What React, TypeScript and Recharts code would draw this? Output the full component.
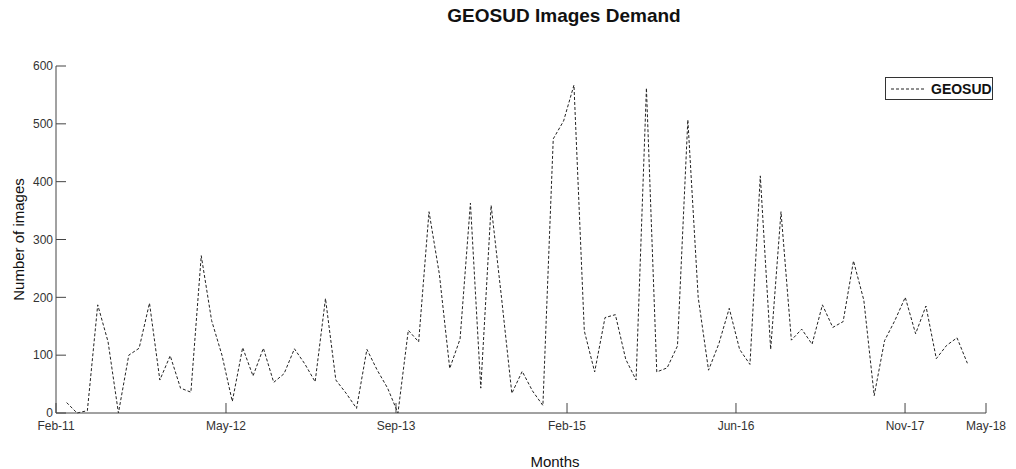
import React from "react";
import { LineChart, Line, XAxis, YAxis, Legend } from "recharts";

// monthly image demand, one value per month starting Mar-11
const demand = [
  18, 0, 4, 187, 123, 0, 100, 112, 190, 57, 99, 43, 36, 272, 160, 100, 20, 113,
  64, 112, 53, 68, 111, 85, 54, 198, 57, 34, 8, 110, 74, 43, 0, 143, 123, 348,
  240, 77, 128, 363, 43, 359, 200, 34, 72, 38, 13, 474, 505, 567, 142, 71, 165,
  170, 93, 57, 562, 71, 78, 116, 507, 200, 74, 120, 181, 110, 84, 410, 110, 348,
  126, 145, 119, 187, 148, 158, 263, 195, 30, 125, 160, 200, 137, 185, 94, 117,
  130, 86,
];

// date ticks (in month-index units, axis runs from xMin to xMax)
const xMin = -1.03;
const xMax = 88.8;
const xTickPos = [-1.03, 15.39, 31.81, 48.33, 64.65, 80.98, 88.8];
const xTickLabels = ["Feb-11", "May-12", "Sep-13", "Feb-15", "Jun-16", "Nov-17", "May-18"];
const yTicks = [0, 100, 200, 300, 400, 500, 600];

const data = demand.map((v, i) => ({ month: i, GEOSUD: v }));

const FONT = "Arial, 'Liberation Sans', Helvetica, sans-serif";
const AXIS = "#444";

const YTitle = ({ viewBox }: any) => {
  const cx = viewBox.x + 18;
  const cy = viewBox.y + viewBox.height / 2;
  return (
    <text
      x={cx}
      y={cy}
      transform={`rotate(-90, ${cx}, ${cy})`}
      textAnchor="middle"
      dominantBaseline="central"
      fontSize={15}
      fill="#111"
      fontFamily={FONT}
    >
      Number of images
    </text>
  );
};

const XTitle = ({ viewBox }: any) => (
  <text
    x={viewBox.x + viewBox.width / 2 + 34}
    y={viewBox.y + 54}
    textAnchor="middle"
    fontSize={15}
    fill="#111"
    fontFamily={FONT}
  >
    Months
  </text>
);

const LegendBox = () => (
  <div
    style={{
      width: 108,
      height: 23,
      border: "1px solid #333",
      background: "#fff",
      display: "flex",
      alignItems: "center",
      fontFamily: FONT,
      boxSizing: "border-box",
    }}
  >
    <svg width={40} height={10} style={{ marginLeft: 5 }}>
      <line x1={0} y1={5} x2={35} y2={5} stroke="#222" strokeDasharray="3 2" />
    </svg>
    <span style={{ fontWeight: "bold", fontSize: 14, color: "#111" }}>GEOSUD</span>
  </div>
);

export default function App() {
  return (
    <div
      style={{
        position: "absolute",
        left: 0,
        top: 0,
        width: 1016,
        height: 469,
        background: "#fff",
        fontFamily: FONT,
      }}
    >
      <div
        style={{
          position: "absolute",
          left: 564,
          top: 6,
          transform: "translateX(-50%)",
          fontSize: 19,
          lineHeight: "19px",
          fontWeight: "bold",
          color: "#111",
          whiteSpace: "nowrap",
        }}
      >
        GEOSUD Images Demand
      </div>
      <LineChart
        width={1016}
        height={469}
        data={data}
        margin={{ top: 66, right: 30, bottom: 0, left: 0 }}
      >
        <XAxis
          dataKey="month"
          type="number"
          domain={[xMin, xMax]}
          allowDataOverflow
          ticks={xTickPos}
          tickFormatter={(v: number) => xTickLabels[xTickPos.indexOf(v)] ?? ""}
          interval={0}
          height={56}
          stroke={AXIS}
          tickSize={-10}
          tickMargin={18}
          tick={{ fontSize: 12, fill: "#333", fontFamily: FONT }}
          label={<XTitle />}
        />
        <YAxis
          domain={[0, 600]}
          ticks={yTicks}
          width={56}
          stroke={AXIS}
          tickSize={-10}
          tickMargin={13}
          tick={{ fontSize: 12, fill: "#333", fontFamily: FONT }}
          label={<YTitle />}
        />
        <Legend
          layout="vertical"
          align="center"
          verticalAlign="middle"
          content={<LegendBox />}
          wrapperStyle={{ left: 885, top: 77, width: 108 }}
        />
        <Line
          dataKey="GEOSUD"
          stroke="#222"
          strokeWidth={1}
          strokeDasharray="3 2"
          dot={false}
          isAnimationActive={false}
        />
      </LineChart>
    </div>
  );
}
